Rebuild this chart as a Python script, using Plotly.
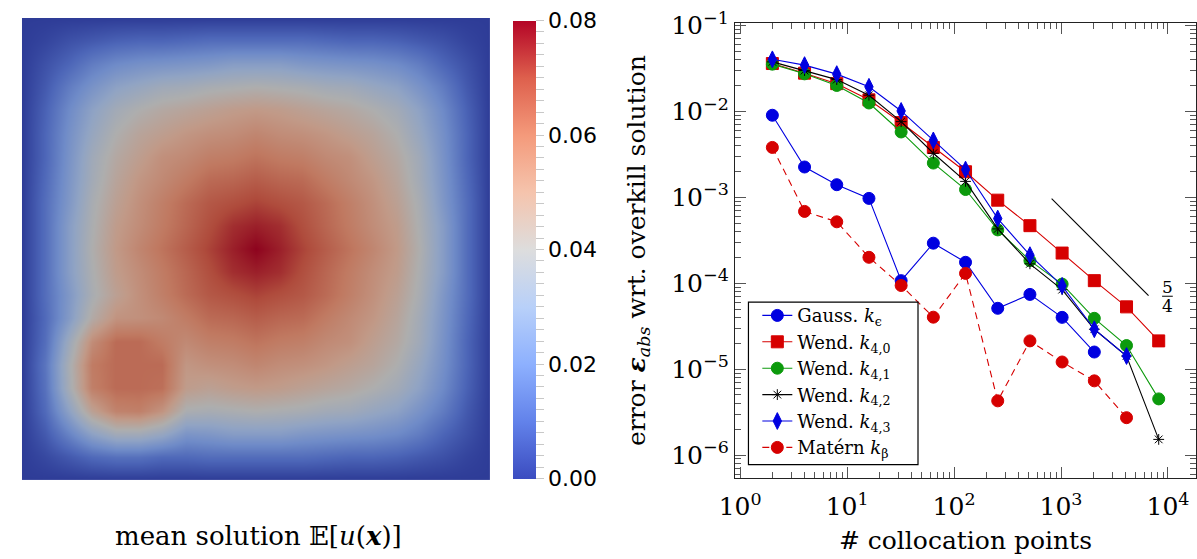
import plotly.graph_objects as go

W, H = 1197, 559

# ---------------- data: error convergence ----------------
n_points = [2, 4, 8, 16, 32, 64, 128, 256, 512, 1024, 2048, 4096, 8192]

gauss = [9.0e-3, 2.25e-3, 1.40e-3, 9.7e-4, 1.07e-4, 2.92e-4, 1.75e-4, 5.1e-5, 7.4e-5, 4.0e-5, 1.58e-5]
wend40 = [3.6e-2, 2.78e-2, 2.1e-2, 1.36e-2, 7.4e-3, 3.8e-3, 1.98e-3, 9.25e-4, 4.67e-4, 2.24e-4, 1.07e-4, 5.3e-5, 2.13e-5]
wend41 = [3.54e-2, 2.73e-2, 2.0e-2, 1.25e-2, 5.75e-3, 2.5e-3, 1.23e-3, 4.17e-4, 1.83e-4, 9.75e-5, 3.9e-5, 1.88e-5, 4.5e-6]
wend42 = [3.76e-2, 2.98e-2, 2.34e-2, 1.54e-2, 7.58e-3, 3.25e-3, 1.53e-3, 4.28e-4, 1.68e-4, 8.4e-5, 2.91e-5, 1.42e-5, 1.52e-6]
wend43 = [4.03e-2, 3.45e-2, 2.71e-2, 1.93e-2, 1.01e-2, 4.59e-3, 2.1e-3, 5.65e-4, 2.12e-4, 9.3e-5, 2.91e-5, 1.42e-5]
matern = [3.8e-3, 6.84e-4, 5.18e-4, 2.0e-4, 9.4e-5, 4.02e-5, 1.3e-4, 4.27e-6, 2.13e-5, 1.21e-5, 7.3e-6, 2.72e-6]

slope_x = [817, 6580]
slope_y = [9.66e-4, 7.15e-5]

x_tick_vals = [1, 10, 100, 1000, 10000]
x_tick_text = ["10<sup>0</sup>", "10<sup>1</sup>", "10<sup>2</sup>", "10<sup>3</sup>", "10<sup>4</sup>"]
y_tick_vals = [1e-6, 1e-5, 1e-4, 1e-3, 1e-2, 1e-1]
y_tick_text = ["10<sup>−6</sup>", "10<sup>−5</sup>", "10<sup>−4</sup>", "10<sup>−3</sup>", "10<sup>−2</sup>", "10<sup>−1</sup>"]

# ---------------- data: mean solution field (rows: y from 0 to 1, step 0.05) ----------------
grid = [0.0, 0.05, 0.1, 0.15, 0.2, 0.25, 0.3, 0.35, 0.4, 0.45, 0.5,
        0.55, 0.6, 0.65, 0.7, 0.75, 0.8, 0.85, 0.9, 0.95, 1.0]
field = [
    [0, 0, 0, 0, 0, 0, 0, 0, 0, 0, 0, 0, 0, 0, 0, 0, 0, 0, 0, 0, 0],
    [0, .003, .007, .011, .013, .013, .011, .011, .012, .012, .012, .012, .012, .011, .010, .010, .009, .007, .005, .002, 0],
    [0, .007, .018, .029, .036, .036, .032, .024, .025, .027, .027, .027, .025, .024, .023, .022, .020, .016, .010, .005, 0],
    [0, .011, .029, .047, .057, .058, .052, .039, .038, .039, .040, .039, .038, .036, .035, .032, .029, .023, .016, .007, 0],
    [0, .013, .037, .058, .063, .063, .062, .049, .047, .049, .050, .049, .047, .045, .043, .040, .036, .029, .020, .009, 0],
    [0, .014, .038, .059, .063, .063, .063, .051, .053, .054, .056, .054, .053, .051, .048, .045, .040, .032, .022, .010, 0],
    [0, .012, .034, .054, .063, .063, .059, .055, .058, .059, .061, .059, .058, .055, .053, .048, .043, .035, .023, .010, 0],
    [0, .011, .026, .042, .052, .053, .055, .059, .063, .064, .066, .064, .063, .059, .055, .051, .045, .036, .024, .011, 0],
    [0, .012, .025, .038, .047, .053, .058, .063, .067, .069, .071, .069, .067, .063, .058, .053, .047, .038, .025, .012, 0],
    [0, .012, .027, .039, .049, .054, .059, .064, .069, .074, .076, .074, .069, .064, .059, .054, .049, .039, .027, .012, 0],
    [0, .012, .027, .040, .050, .056, .061, .066, .071, .076, .080, .076, .071, .066, .061, .056, .050, .040, .027, .012, 0],
    [0, .012, .027, .039, .049, .054, .059, .064, .069, .074, .076, .074, .069, .064, .059, .054, .049, .039, .027, .012, 0],
    [0, .012, .025, .038, .047, .053, .058, .063, .067, .069, .071, .069, .067, .063, .058, .053, .047, .038, .025, .012, 0],
    [0, .011, .024, .036, .045, .051, .055, .059, .063, .064, .066, .064, .063, .059, .055, .051, .045, .036, .024, .011, 0],
    [0, .010, .023, .035, .043, .048, .053, .055, .058, .059, .061, .059, .058, .055, .053, .048, .043, .035, .023, .010, 0],
    [0, .010, .022, .032, .040, .045, .048, .051, .053, .054, .056, .054, .053, .051, .048, .045, .040, .032, .022, .010, 0],
    [0, .009, .020, .029, .036, .040, .043, .045, .047, .049, .050, .049, .047, .045, .043, .040, .036, .029, .020, .009, 0],
    [0, .007, .016, .023, .029, .032, .035, .036, .038, .039, .040, .039, .038, .036, .035, .032, .029, .023, .016, .007, 0],
    [0, .005, .010, .016, .020, .022, .023, .024, .025, .027, .027, .027, .025, .024, .023, .022, .020, .016, .010, .005, 0],
    [0, .002, .005, .007, .009, .010, .010, .011, .012, .012, .012, .012, .012, .011, .010, .010, .009, .007, .005, .002, 0],
    [0, 0, 0, 0, 0, 0, 0, 0, 0, 0, 0, 0, 0, 0, 0, 0, 0, 0, 0, 0, 0],
]
cb_labels = ["0.00", "0.02", "0.04", "0.06", "0.08"]

# ---------------- styles ----------------
cw_stops = [0, 0.125, 0.25, 0.375, 0.5, 0.625, 0.75, 0.875, 1.0]
cw_rgb = [(59, 76, 192), (98, 130, 234), (141, 176, 254), (184, 208, 249), (221, 221, 221),
          (245, 196, 173), (244, 154, 123), (222, 96, 77), (180, 4, 38)]
cw = [[s, "rgb(%d,%d,%d)" % c] for s, c in zip(cw_stops, cw_rgb)]
shade = 0.79
cw_dark = [[s, "rgb(%d,%d,%d)" % tuple(int(v * shade) for v in c)] for s, c in zip(cw_stops, cw_rgb)]

SERIF = "DejaVu Serif"
BLUE = "#0000e0"
RED = "#d60000"
GREEN = "#0c9a0c"

fig = go.Figure()

# heatmap
fig.add_trace(go.Heatmap(
    x=grid, y=grid, z=field, zmin=0, zmax=0.08, colorscale=cw_dark,
    zsmooth="best", showscale=False, xaxis="x", yaxis="y", hoverinfo="skip"))

cb_ticks = [round(0.002 * k, 3) for k in range(41)]
cb_text = [cb_labels[k // 10] if k % 10 == 0 else "" for k in range(41)]
fig.add_trace(go.Scatter(
    x=[0.5, 0.5], y=[0.5, 0.5], mode="markers", xaxis="x", yaxis="y",
    marker=dict(size=0, opacity=0, color=[0, 0.08], cmin=0, cmax=0.08, colorscale=cw, showscale=True,
                colorbar=dict(x=504 / W, xanchor="left", xref="paper", y=1 - 241 / H, yanchor="middle",
                              thickness=23, lenmode="pixels", len=458, outlinewidth=0, ypad=0, xpad=0,
                              ticks="outside", ticklen=8, tickcolor="#c8c8c8", tickwidth=1,
                              tickmode="array", tickvals=cb_ticks, ticktext=cb_text,
                              tickfont=dict(family="DejaVu Sans", size=22, color="black"))),
    showlegend=False, hoverinfo="skip"))

series = [
    ("Gauss. <i>k</i><sub>ϵ</sub>", gauss, BLUE, "circle", 12, "solid", BLUE),
    ("Wend. <i>k</i><sub>4,0</sub>", wend40, RED, "square", 12, "solid", RED),
    ("Wend. <i>k</i><sub>4,1</sub>", wend41, GREEN, "circle", 12, "solid", GREEN),
    ("Wend. <i>k</i><sub>4,2</sub>", wend42, "black", "asterisk-open", 9, "solid", "black"),
    ("Wend. <i>k</i><sub>4,3</sub>", wend43, BLUE, "diamond-tall", 12, "solid", BLUE),
    ("Matérn <i>k</i><sub>β</sub>", matern, RED, "circle", 12, "7px,5px", RED),
]
for i, (name, vals, col, sym, size, dash, lcol) in enumerate(series):
    fig.add_trace(go.Scatter(
        x=n_points[:len(vals)], y=vals, name=name, mode="lines+markers",
        xaxis="x2", yaxis="y2", legendgroup="g%d" % i,
        line=dict(color=lcol, width=1.1, dash=dash),
        marker=dict(symbol=sym, size=size, color=col, line=dict(color=col, width=1))))

fig.add_trace(go.Scatter(x=slope_x, y=slope_y, mode="lines", xaxis="x2", yaxis="y2",
                         line=dict(color="black", width=1.1), showlegend=False, hoverinfo="skip"))

x_minor = [0.9] + [m * 10 ** k for k in range(0, 4) for m in range(2, 10)]
y_minor = [m * 10.0 ** k for k in range(-7, -1) for m in range(2, 10) if m * 10.0 ** k > 5.4e-7]

axis_common = dict(showgrid=False, zeroline=False, showline=True, linecolor="#222", linewidth=1.3,
                   mirror="allticks", ticks="inside", ticklen=11, tickwidth=1, tickcolor="#555",
                   ticklabeloverflow="allow",
                   tickfont=dict(family=SERIF, size=25, color="black"))

fig.update_layout(
    width=W, height=H, margin=dict(l=0, r=0, t=0, b=0),
    paper_bgcolor="white", plot_bgcolor="white",
    xaxis=dict(domain=[6 / W, 481 / W], range=[0, 1], visible=False, anchor="y"),
    yaxis=dict(domain=[1 - 478 / H, 1 - 3 / H], range=[0, 1], visible=False, anchor="x"),
    xaxis2=dict(type="log", domain=[729.3 / W, 1.0], range=[-0.0488, 4.262], anchor="y2",
                tickmode="array", tickvals=x_tick_vals, ticktext=x_tick_text, ticklabelstandoff=6,
                minor=dict(tickmode="array", tickvals=x_minor, ticks="inside", ticklen=6,
                           tickwidth=1, tickcolor="#555"),
                title=dict(text="# collocation points", font=dict(family=SERIF, size=25, color="black"),
                           standoff=11),
                **axis_common),
    yaxis2=dict(type="log", domain=[1 - 476 / H, 1 - 8.3 / H], range=[-6.27, -0.973], anchor="x2",
                tickmode="array", tickvals=y_tick_vals, ticktext=y_tick_text,
                minor=dict(tickmode="array", tickvals=y_minor, ticks="inside", ticklen=6,
                           tickwidth=1, tickcolor="#555"),
                title=dict(text="error <b><i>ε</i></b><sub><i>abs</i></sub> wrt. overkill solution",
                           font=dict(family=SERIF, size=25, color="black"), standoff=18),
                **axis_common),
    legend=dict(x=752 / W, y=1 - 290 / H, xanchor="left", yanchor="top", bgcolor="rgba(0,0,0,0)",
                borderwidth=0, tracegroupgap=0, font=dict(family=SERIF, size=18, color="black")),
    shapes=[dict(type="rect", xref="paper", yref="paper", x0=743 / W, x1=915 / W,
                 y0=1 - 462 / H, y1=1 - 295 / H, fillcolor="white", line=dict(color="black", width=1.2),
                 layer="above"),
            dict(type="line", xref="x2", yref="y2", x0=10 ** 3.945, x1=10 ** 4.045,
                 y0=10 ** -4.152, y1=10 ** -4.152, line=dict(color="black", width=1))],
    annotations=[
        dict(text="mean solution 𝔼[<i>u</i>(<b><i>x</i></b>)]", xref="paper", yref="paper",
             x=246 / W, y=1 - 535 / H, xanchor="center", yanchor="middle", showarrow=False,
             font=dict(family=SERIF, size=26, color="black")),
        dict(text="5", xref="x2", yref="y2", x=3.995, y=-4.05, showarrow=False,
             xanchor="center", yanchor="middle", font=dict(family=SERIF, size=17, color="black")),
        dict(text="4", xref="x2", yref="y2", x=3.995, y=-4.26, showarrow=False,
             xanchor="center", yanchor="middle", font=dict(family=SERIF, size=17, color="black")),
    ],
)

fig.write_html("out.html")
